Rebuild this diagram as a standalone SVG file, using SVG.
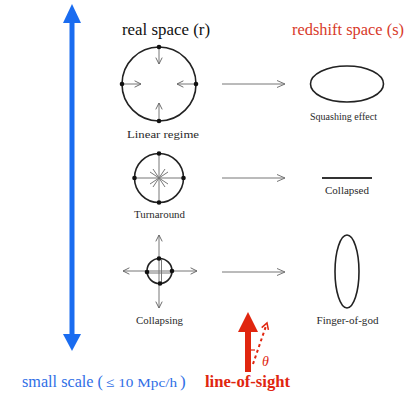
<svg xmlns="http://www.w3.org/2000/svg" width="408" height="395" viewBox="0 0 408 395">
<style>
.lbl{font-family:"Liberation Serif",serif;font-size:11px;fill:#2a2a2a;text-anchor:middle}
.hdr{font-family:"Liberation Serif",serif;font-size:16.5px;text-anchor:middle}
.gl{stroke:#777;stroke-width:1;fill:none}
.circ{stroke:#222;stroke-width:1.6;fill:none}
.dot{fill:#111}
</style>
<defs>
<marker id="oa" viewBox="0 0 10 10" refX="9" refY="5" markerWidth="8" markerHeight="8" markerUnits="userSpaceOnUse" orient="auto">
<path d="M1,1 L9,5 L1,9" fill="none" stroke="#666" stroke-width="1.2"/>
</marker>
<marker id="oab" viewBox="0 0 10 10" refX="9" refY="5" markerWidth="10" markerHeight="10" markerUnits="userSpaceOnUse" orient="auto">
<path d="M1,1.5 L9,5 L1,8.5" fill="none" stroke="#777" stroke-width="1"/>
</marker>
</defs>
<rect width="408" height="395" fill="#fff"/>

<g id="scale-arrow">
<line x1="72" y1="20" x2="72" y2="337" stroke="#1a6cf0" stroke-width="5"/>
<polygon points="72,4 63,23 81,23" fill="#1a6cf0"/>
<polygon points="72,351 63,334 81,334" fill="#1a6cf0"/>
</g>

<text class="hdr" x="166" y="35" fill="#111" textLength="88" lengthAdjust="spacingAndGlyphs">real space (r)</text>
<text class="hdr" x="348" y="35" fill="#d83a2a" textLength="112" lengthAdjust="spacingAndGlyphs">redshift space (s)</text>

<g id="linear">
<circle class="circ" cx="159" cy="84" r="37"/>
<line class="gl" x1="159" y1="47" x2="159" y2="64" marker-end="url(#oa)"/>
<line class="gl" x1="159" y1="121" x2="159" y2="103" marker-end="url(#oa)"/>
<line class="gl" x1="122" y1="84" x2="141" y2="84" marker-end="url(#oa)"/>
<line class="gl" x1="196" y1="84" x2="177" y2="84" marker-end="url(#oa)"/>
<circle class="dot" cx="159" cy="47" r="2.3"/>
<circle class="dot" cx="159" cy="121" r="2.3"/>
<circle class="dot" cx="122" cy="84" r="2.3"/>
<circle class="dot" cx="196" cy="84" r="2.3"/>
<text class="lbl" x="163" y="138" textLength="72" lengthAdjust="spacingAndGlyphs">Linear regime</text>
</g>

<g id="turnaround">
<circle class="circ" cx="159" cy="178" r="24.5"/>
<line class="gl" x1="159" y1="153.5" x2="159" y2="202.5"/>
<line class="gl" x1="134.5" y1="178" x2="183.5" y2="178"/>
<g class="gl">
<line x1="150" y1="172" x2="168" y2="184"/>
<line x1="150" y1="184" x2="168" y2="172"/>
<line x1="153" y1="169" x2="165" y2="187"/>
<line x1="153" y1="187" x2="165" y2="169"/>
</g>
<circle class="dot" cx="159" cy="153.5" r="2.3"/>
<circle class="dot" cx="159" cy="202.5" r="2.3"/>
<circle class="dot" cx="134.5" cy="178" r="2.3"/>
<circle class="dot" cx="183.5" cy="178" r="2.3"/>
<text class="lbl" x="159.5" y="218" textLength="51" lengthAdjust="spacingAndGlyphs">Turnaround</text>
</g>

<g id="collapsing">
<circle class="circ" cx="159.5" cy="271" r="12.5"/>
<line class="gl" x1="159" y1="271" x2="159" y2="235" marker-end="url(#oa)"/>
<line class="gl" x1="159" y1="271" x2="159" y2="308" marker-end="url(#oa)"/>
<line class="gl" x1="159" y1="271" x2="123" y2="271" marker-end="url(#oa)"/>
<line class="gl" x1="159" y1="271" x2="197" y2="271" marker-end="url(#oa)"/>
<line class="gl" x1="161.5" y1="259" x2="161.5" y2="283"/>
<line class="gl" x1="148" y1="273" x2="171" y2="273"/>
<circle class="dot" cx="159" cy="258.5" r="2.3"/>
<circle class="dot" cx="160" cy="283.5" r="2.3"/>
<circle class="dot" cx="147" cy="272" r="2.3"/>
<circle class="dot" cx="172" cy="271" r="2.3"/>
<text class="lbl" x="159.5" y="324" textLength="47" lengthAdjust="spacingAndGlyphs">Collapsing</text>
</g>

<g id="connectors">
<line class="gl" x1="222" y1="84" x2="285" y2="84" marker-end="url(#oab)"/>
<line class="gl" x1="222" y1="178" x2="285" y2="178" marker-end="url(#oab)"/>
<line class="gl" x1="222" y1="272" x2="285" y2="272" marker-end="url(#oab)"/>
</g>

<g id="squashing">
<ellipse class="circ" cx="347" cy="84" rx="36.5" ry="18"/>
<text class="lbl" x="343.5" y="120" textLength="67" lengthAdjust="spacingAndGlyphs">Squashing effect</text>
</g>

<g id="collapsed">
<line x1="322" y1="178" x2="372" y2="178" stroke="#333" stroke-width="2"/>
<text class="lbl" x="347" y="194" textLength="44" lengthAdjust="spacingAndGlyphs">Collapsed</text>
</g>

<g id="finger">
<ellipse class="circ" cx="347" cy="271.5" rx="12" ry="36.5"/>
<text class="lbl" x="347.5" y="324" textLength="62" lengthAdjust="spacingAndGlyphs">Finger-of-god</text>
</g>

<g id="line-of-sight">
<line x1="248" y1="328" x2="248" y2="372" stroke="#e0260f" stroke-width="6"/>
<polygon points="248,312 238,332 258,332" fill="#e0260f"/>
<line x1="253" y1="364" x2="266" y2="326" stroke="#e0260f" stroke-width="2" stroke-dasharray="3,3"/>
<path d="M261.7,327.6 L267,323 L268.4,329.9" fill="none" stroke="#e0260f" stroke-width="1.5"/>
<line x1="251" y1="350" x2="255" y2="350" stroke="#e0260f" stroke-width="1.2"/>
<text x="262" y="366" font-family="Liberation Serif,serif" font-style="italic" font-size="14" fill="#e0260f">θ</text>
<text x="247.5" y="387" font-family="Liberation Serif,serif" font-weight="bold" font-size="16" fill="#e0260f" text-anchor="middle" textLength="85" lengthAdjust="spacingAndGlyphs">line-of-sight</text>
</g>

<text x="22" y="387" font-family="Liberation Serif,serif" font-size="17" fill="#2f6ee6"><tspan textLength="81" lengthAdjust="spacingAndGlyphs">small scale (</tspan><tspan x="106" font-size="13.5" textLength="71" lengthAdjust="spacingAndGlyphs">≤ 10 Mpc/h</tspan><tspan x="180">)</tspan></text>
</svg>
